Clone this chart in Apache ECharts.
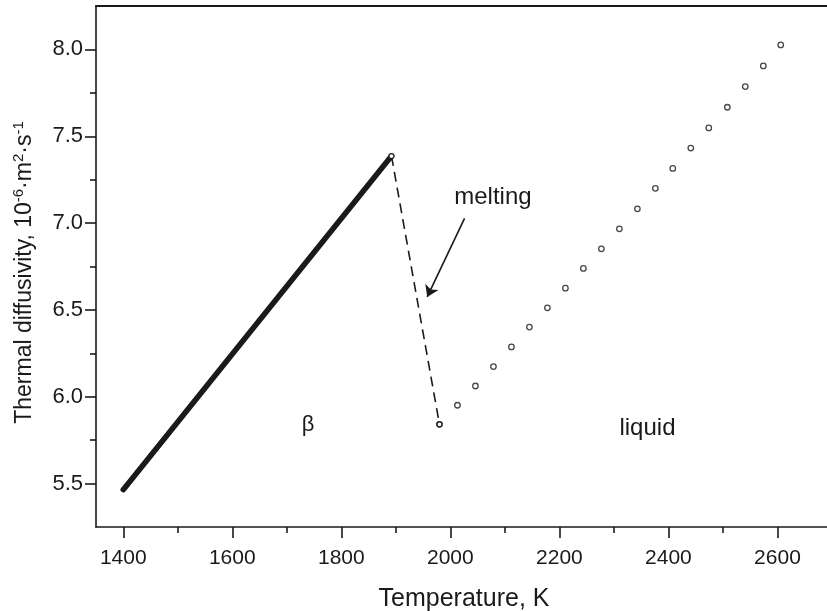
<!DOCTYPE html>
<html>
<head>
<meta charset="utf-8">
<script src="https://cdn.jsdelivr.net/npm/echarts@6/dist/echarts.min.js"></script>
<style>
html,body{margin:0;padding:0;background:#fff;}
#chart{width:827px;height:611px;}
</style>
</head>
<body>
<div id="chart"></div>
<script>
// ---- data ----
const xMajorTicks = [1400, 1600, 1800, 2000, 2200, 2400, 2600];
const xMinorTicks = [1500, 1700, 1900, 2100, 2300, 2500];
const yMajorTicks = [5.5, 6.0, 6.5, 7.0, 7.5, 8.0];
const yMinorTicks = [5.75, 6.25, 6.75, 7.25, 7.75];

// beta phase (solid thick line)
const betaT = [1400, 1892];
const betaA = [5.465, 7.386];

// melting jump (dashed)
const meltT = [1892, 1980];
const meltA = [7.386, 5.841];

// liquid (open circles)
const liquidT = [1980, 2013, 2046, 2079, 2112, 2145, 2178, 2211, 2244, 2277,
                 2310, 2343, 2376, 2408, 2441, 2474, 2508, 2541, 2574, 2606];
const liquidA = [5.841, 5.951, 6.062, 6.174, 6.287, 6.401, 6.512, 6.625, 6.739, 6.852,
                 6.967, 7.082, 7.200, 7.315, 7.432, 7.548, 7.667, 7.786, 7.905, 8.026];

// annotations
const arrowFrom = [2026, 7.027];
const arrowTo = [1957.5, 6.575];
const labelTexts = ['melting', 'β', 'liquid'];
const labelCoords = [[2078, 7.150], [1739, 5.836], [2361.5, 5.816]];

const zip = (a, b) => a.map((v, i) => [v, b[i]]);

const INK = '#1a1a1a';
const FONT = 'Liberation Sans, Arial, sans-serif';

const chart = echarts.init(document.getElementById('chart'));
const option = {
  backgroundColor: '#fff',
  animation: false,
  grid: { left: 96, top: 6, width: 736, height: 521, containLabel: false, outerBoundsMode: 'none' },
  xAxis: [
    {
      type: 'value', min: 1350, max: 2700, position: 'bottom',
      axisLine: { show: true, lineStyle: { color: INK, width: 1.6 } },
      axisTick: { show: true, inside: false, length: 11, customValues: xMajorTicks, lineStyle: { color: INK, width: 1.6 } },
      axisLabel: { show: true, customValues: xMajorTicks, margin: 21, fontSize: 21, color: INK, fontFamily: FONT,
                   formatter: v => String(v) },
      splitLine: { show: false },
      name: 'Temperature, K', nameLocation: 'middle', nameGap: 60,
      nameTextStyle: { fontSize: 25, color: INK, fontFamily: FONT }
    },
    {
      type: 'value', min: 1350, max: 2700, position: 'bottom',
      axisLine: { show: false },
      axisTick: { show: true, inside: false, length: 6, customValues: xMinorTicks, lineStyle: { color: INK, width: 1.6 } },
      axisLabel: { show: false }, splitLine: { show: false }
    },
    {
      type: 'value', min: 1350, max: 2700, position: 'top',
      axisLine: { show: true, lineStyle: { color: INK, width: 2 } },
      axisTick: { show: false }, axisLabel: { show: false }, splitLine: { show: false }
    }
  ],
  yAxis: [
    {
      type: 'value', min: 5.25, max: 8.25, position: 'left',
      axisLine: { show: true, lineStyle: { color: INK, width: 1.6 } },
      axisTick: { show: true, inside: false, length: 11, customValues: yMajorTicks, lineStyle: { color: INK, width: 1.6 } },
      axisLabel: { show: true, customValues: yMajorTicks, margin: 13, fontSize: 22, color: INK, fontFamily: FONT,
                   formatter: v => v.toFixed(1) },
      splitLine: { show: false },
      name: 'Thermal diffusivity, 10{sup|-6}·m{sup|2}·s{sup|-1}',
      nameLocation: 'middle', nameGap: 58,
      nameTextStyle: {
        fontSize: 23, color: INK, fontFamily: FONT, lineHeight: 27, padding: [0, 12, 0, 0],
        rich: { sup: { fontSize: 15, color: INK, fontFamily: FONT, verticalAlign: 'top', lineHeight: 15 } }
      }
    },
    {
      type: 'value', min: 5.25, max: 8.25, position: 'left',
      axisLine: { show: false },
      axisTick: { show: true, inside: false, length: 6, customValues: yMinorTicks, lineStyle: { color: INK, width: 1.6 } },
      axisLabel: { show: false }, splitLine: { show: false }
    }
  ],
  series: [
    {
      name: 'beta', type: 'line', xAxisIndex: 0, yAxisIndex: 0,
      data: zip(betaT, betaA), symbol: 'none',
      lineStyle: { color: INK, width: 5.5, cap: 'round' }, silent: true
    },
    {
      name: 'melting', type: 'line', xAxisIndex: 0, yAxisIndex: 0,
      data: zip(meltT, meltA), symbol: 'circle', symbolSize: 5,
      itemStyle: { color: '#fff', borderColor: INK, borderWidth: 1.2 },
      lineStyle: { color: INK, width: 1.6, type: [10, 6] }, silent: true
    },
    {
      name: 'liquid', type: 'scatter', xAxisIndex: 0, yAxisIndex: 0,
      data: zip(liquidT, liquidA), symbol: 'circle', symbolSize: 5.5,
      itemStyle: { color: '#fff', borderColor: INK, borderWidth: 1.3 }, silent: true,
      markLine: {
        silent: true, symbol: ['none', 'arrow'], symbolSize: 11,
        lineStyle: { color: INK, width: 1.6, type: 'solid' },
        label: { show: false },
        data: [[{ coord: arrowFrom }, { coord: arrowTo }]]
      },
      markPoint: {
        silent: true, symbol: 'circle', symbolSize: 1,
        itemStyle: { color: 'rgba(0,0,0,0)' },
        data: labelTexts.map((t, i) => ({
          coord: labelCoords[i],
          label: { show: true, position: 'inside', formatter: t, color: INK, fontFamily: FONT,
                   fontSize: t === 'β' ? 22 : 24 }
        }))
      }
    }
  ]
};
chart.setOption(option);
</script>
</body>
</html>
